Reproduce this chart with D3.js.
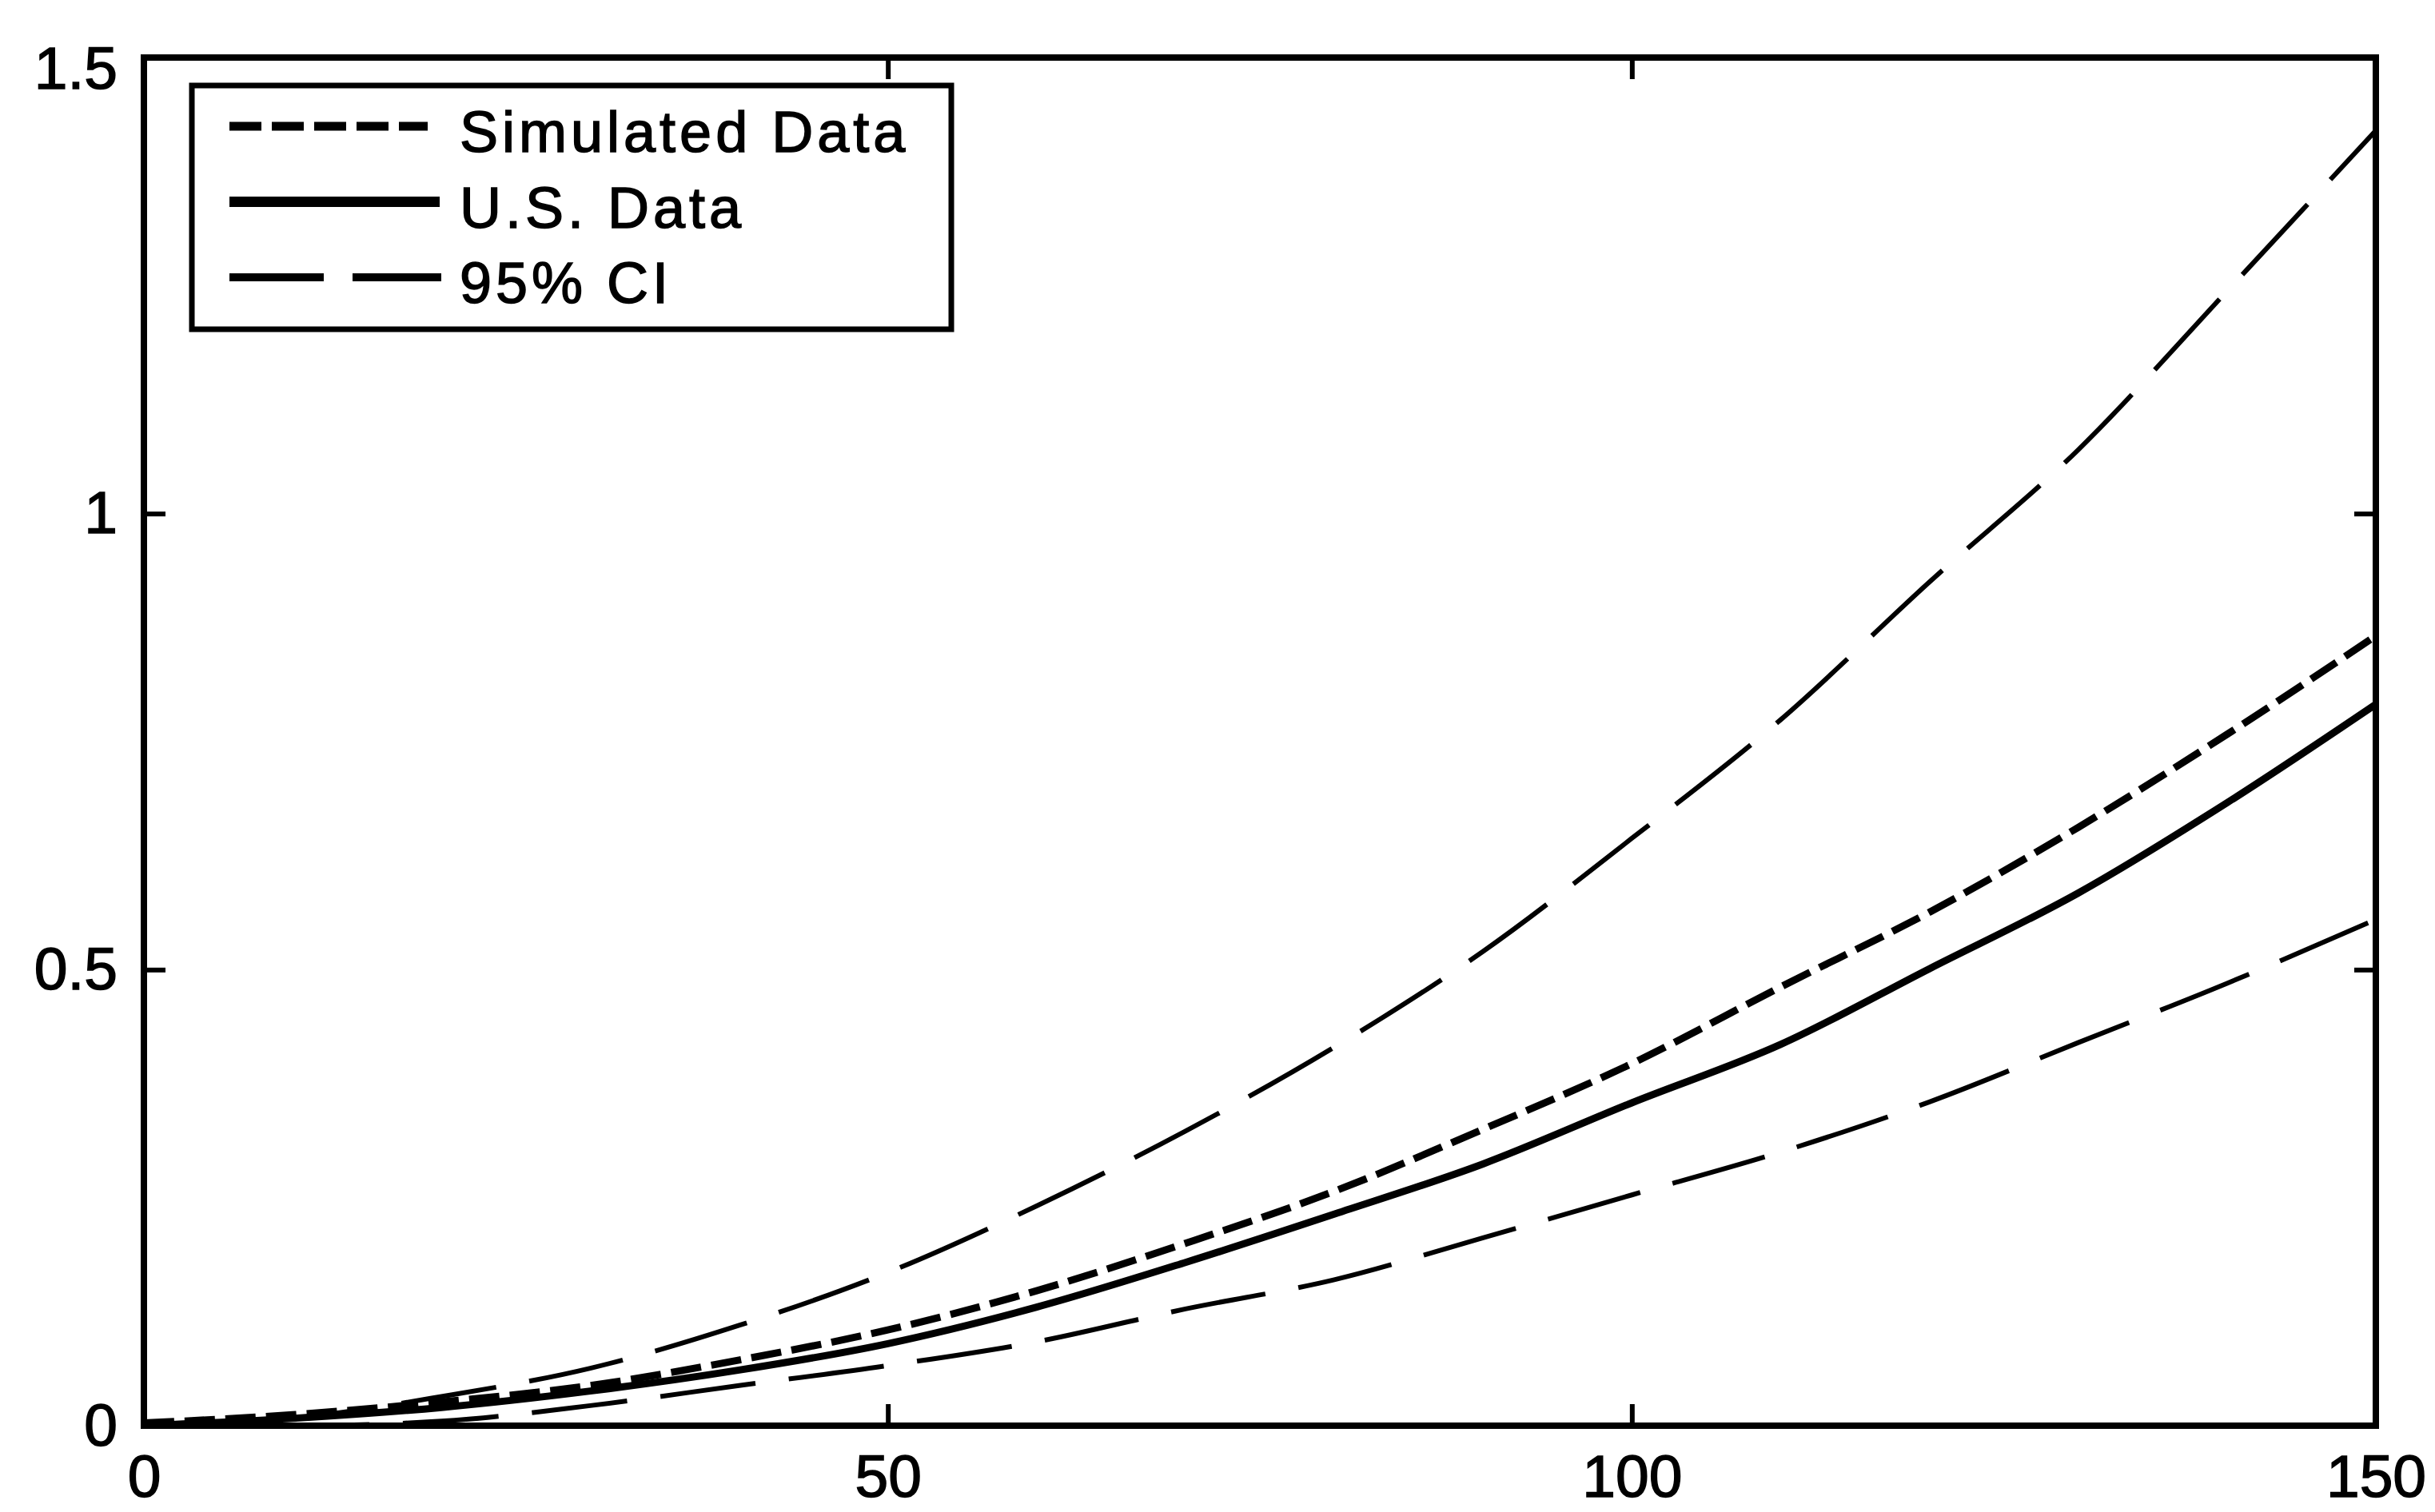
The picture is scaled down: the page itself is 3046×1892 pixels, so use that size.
<!DOCTYPE html>
<html>
<head>
<meta charset="utf-8">
<script src="https://cdn.jsdelivr.net/npm/d3@7"></script>
<style>
  body { margin: 0; background: #fff; }
  text { font-family: "Liberation Sans", Arial, sans-serif; fill: #000; stroke: #000; stroke-width: 1.5px; }
</style>
</head>
<body>
<svg id="chart"></svg>
<script>
// values
var xVals      = [0, 10, 20, 30, 40, 50, 60, 70, 80, 90, 100, 110, 120, 130, 140, 150];
var simulated  = [0.003, 0.012, 0.026, 0.044, 0.072, 0.105, 0.148, 0.200, 0.257, 0.325, 0.397, 0.481, 0.563, 0.656, 0.758, 0.866];
var usData     = [0.000, 0.008, 0.020, 0.038, 0.061, 0.090, 0.130, 0.179, 0.232, 0.287, 0.354, 0.418, 0.501, 0.584, 0.683, 0.791];
var ciUpper    = [0.000, 0.008, 0.032, 0.063, 0.110, 0.168, 0.241, 0.323, 0.415, 0.520, 0.644, 0.774, 0.925, 1.070, 1.244, 1.420];
var ciLower    = [0.000, 0.000, 0.005, 0.022, 0.044, 0.066, 0.092, 0.128, 0.160, 0.206, 0.253, 0.300, 0.355, 0.420, 0.485, 0.555];

var xTicks      = [0, 50, 100, 150];
var xTickLabels = ["0", "50", "100", "150"];
var yTicks      = [0, 0.5, 1, 1.5];
var yTickLabels = ["0", "0.5", "1", "1.5"];

var legendNames = ["Simulated Data", "U.S. Data", "95% CI"];

var width = 3046, height = 1892;
var margin = { top: 72, right: 74, bottom: 108, left: 180 };

var svg = d3.select('#chart')
            .attr('width', width)
            .attr('height', height);

var x = d3.scaleLinear()
          .domain([0, 150])
          .range([margin.left, width - margin.right]);

var y = d3.scaleLinear()
          .domain([0, 1.5])
          .range([height - margin.bottom, margin.top]);

var styles = {
  sim: { width: 9, dash: '38,13' },
  us:  { width: 9, dash: null },
  ci:  { width: 6, dash: '120,42' }
};

// clip so the curves stay inside the frame
svg.append('clipPath').attr('id', 'plotClip')
   .append('rect')
   .attr('x', x(0)).attr('y', y(1.5))
   .attr('width', x(150) - x(0)).attr('height', y(0) - y(1.5));

var line = d3.line()
             .x(function (d) { return x(d[0]); })
             .y(function (d) { return y(d[1]); })
             .curve(d3.curveMonotoneX);

function pairs(vals) {
  return xVals.map(function (v, i) { return [v, vals[i]]; });
}

var series = [
  { vals: ciUpper,   s: styles.ci },
  { vals: ciLower,   s: styles.ci },
  { vals: usData,    s: styles.us },
  { vals: simulated, s: styles.sim }
];

var plot = svg.append('g').attr('clip-path', 'url(#plotClip)');

plot.selectAll('path')
    .data(series)
    .enter()
    .append('path')
    .attr('d', function (d) { return line(pairs(d.vals)); })
    .attr('fill', 'none')
    .attr('stroke', '#000')
    .attr('stroke-width', function (d) { return d.s.width; })
    .attr('stroke-dasharray', function (d) { return d.s.dash; })
    .attr('stroke-linejoin', 'round');

// axes, matlab style with ticks pointing inward
var tickLen = 27;

function styleAxis(g) {
  g.select('.domain').remove();
  g.selectAll('.tick line').attr('stroke', '#000').attr('stroke-width', 6);
  g.selectAll('.tick text').style('font-size', '75px').style('font-family', '"Liberation Sans", Arial, sans-serif');
}

svg.append('g')
   .attr('transform', 'translate(0,' + y(0) + ')')
   .call(d3.axisBottom(x).tickValues(xTicks)
           .tickFormat(function (d, i) { return xTickLabels[i]; })
           .tickSize(-tickLen).tickPadding(36))
   .call(styleAxis);

svg.append('g')
   .attr('transform', 'translate(0,' + y(1.5) + ')')
   .call(d3.axisTop(x).tickValues(xTicks).tickFormat('').tickSize(-tickLen))
   .call(styleAxis);

var yAxisG = svg.append('g')
   .attr('transform', 'translate(' + x(0) + ',0)')
   .call(d3.axisLeft(y).tickValues(yTicks)
           .tickFormat(function (d, i) { return yTickLabels[i]; })
           .tickSize(-tickLen).tickPadding(33))
   .call(styleAxis);

// top label sits a little below its tick in the original
yAxisG.selectAll('.tick text').filter(function (d) { return d === 1.5; }).attr('y', 14);

svg.append('g')
   .attr('transform', 'translate(' + x(150) + ',0)')
   .call(d3.axisRight(y).tickValues(yTicks).tickFormat('').tickSize(-tickLen))
   .call(styleAxis);

// frame
svg.append('rect')
   .attr('x', x(0)).attr('y', y(1.5))
   .attr('width', x(150) - x(0)).attr('height', y(0) - y(1.5))
   .attr('fill', 'none')
   .attr('stroke', '#000')
   .attr('stroke-width', 8);

// legend
var legend = svg.append('g').attr('transform', 'translate(240,107)');

legend.append('rect')
      .attr('width', 950).attr('height', 305)
      .attr('fill', '#fff')
      .attr('stroke', '#000')
      .attr('stroke-width', 7);

var legendItems = [
  { name: legendNames[0], s: styles.sim, lw: 11, x2: 295 },
  { name: legendNames[1], s: styles.us,  lw: 13, x2: 310 },
  { name: legendNames[2], s: styles.ci,  lw: 10, x2: 312 }
];

var rows = legend.selectAll('g.item')
                 .data(legendItems)
                 .enter()
                 .append('g')
                 .attr('class', 'item')
                 .attr('transform', function (d, i) { return 'translate(0,' + (51 + i * 94.5) + ')'; });

rows.append('line')
    .attr('x1', 47).attr('x2', function (d) { return d.x2; })
    .attr('y1', 0).attr('y2', 0)
    .attr('stroke', '#000')
    .attr('stroke-width', function (d) { return d.lw; })
    .attr('stroke-dasharray', function (d, i) { return i === 0 ? '40,13' : (i === 2 ? '118,36' : null); });

rows.append('text')
    .attr('x', 335)
    .attr('y', 32)
    .style('font-size', '72px')
    .style('letter-spacing', '5px')
    .text(function (d) { return d.name; });
</script>
</body>
</html>
